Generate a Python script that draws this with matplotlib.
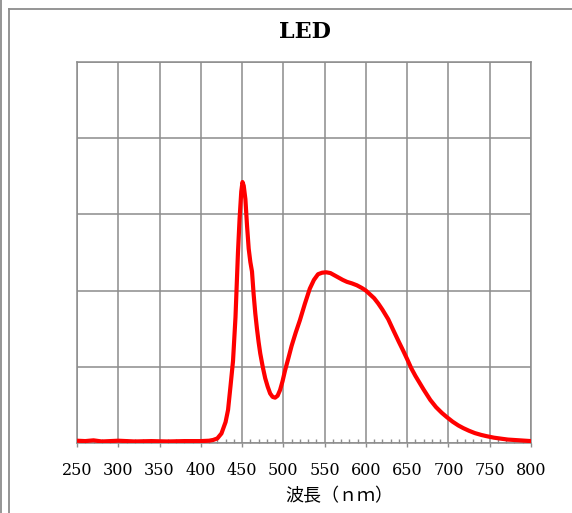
import matplotlib
matplotlib.use('Agg')
import matplotlib.pyplot as plt
from matplotlib.lines import Line2D
from matplotlib.ticker import MultipleLocator

# LED emission spectrum (relative intensity)
wavelength = [250, 260, 270, 280, 290, 300, 320, 340, 360, 380, 400, 410, 415,
              420, 425, 430, 433, 436, 439, 442, 445, 447, 449, 450.5, 452, 454,
              456, 458, 460, 462, 464, 466, 468, 470, 472, 475, 478, 481, 484,
              487, 490, 493, 496, 499, 502, 506, 510, 515, 520, 526, 532, 537,
              542, 547, 552, 557, 562, 567, 572, 577, 583, 589, 595, 600, 605,
              610, 615, 620, 627, 633, 640, 645, 650, 655, 660, 665, 670, 678,
              685, 692, 698, 705, 712, 718, 725, 732, 740, 746, 755, 765, 772,
              779, 786, 793, 800]
intensity = [.006, .005, .007, .004, .005, .006, .004, .005, .004, .005, .005,
             .006, .008, .012, .025, .055, .087, .15, .215, .33, .5, .59, .66,
             .685, .675, .64, .57, .51, .475, .45, .39, .34, .30, .265, .235,
             .2, .17, .148, .13, .121, .119, .124, .139, .162, .19, .222, .255,
             .29, .322, .365, .405, .428, .443, .447, .448, .446, .44, .434,
             .428, .423, .419, .414, .407, .4, .39, .38, .366, .35, .325, .297,
             .265, .243, .22, .196, .176, .158, .14, .113, .094, .079, .068,
             .056, .046, .039, .032, .026, .021, .018, .014, .011, .009, .008,
             .007, .006, .005]

xticks = list(range(250, 801, 50))
title = 'LED'
xlabel = '波長（ｎｍ）'

grey = '#8c8c8c'
serif = ['DejaVu Serif', 'Noto Sans CJK JP']

fig = plt.figure(figsize=(5.72, 5.13), dpi=100)
ax = fig.add_axes([77 / 572, 1 - 443 / 513, 454 / 572, 381 / 513])

ax.plot(wavelength, intensity, color='#ff0000', lw=3, solid_capstyle='butt', zorder=3)

ax.set_xlim(250, 800)
ax.set_ylim(0, 1)
ax.set_xticks(xticks)
ax.set_xticklabels([str(t) for t in xticks], family=serif, fontsize=11.5)
ax.xaxis.set_minor_locator(MultipleLocator(10))
ax.set_yticks([0, 0.2, 0.4, 0.6, 0.8, 1.0])
ax.set_yticklabels([])
ax.tick_params(axis='y', length=0)
ax.tick_params(axis='x', which='major', direction='out', length=3, color=grey,
               width=1, pad=11)
ax.tick_params(axis='x', which='minor', direction='in', length=3, color=grey,
               width=1)
ax.grid(True, color=grey, lw=1.1)
for s in ax.spines.values():
    s.set_color(grey)
    s.set_linewidth(1.1)

fig.text(305 / 572, 1 - 32 / 513, title, ha='center', va='center',
         family=serif, fontweight='bold', fontsize=16)
fig.text(339 / 572, 1 - 496 / 513, xlabel, ha='center', va='center',
         family=serif, fontsize=13)

# chart frame
fig.add_artist(Line2D([8.5 / 572, 8.5 / 572], [0, 1 - 8.5 / 513],
                      transform=fig.transFigure, color=grey, lw=1.3))
fig.add_artist(Line2D([8.5 / 572, 1], [1 - 8.5 / 513, 1 - 8.5 / 513],
                      transform=fig.transFigure, color=grey, lw=1.3))
fig.add_artist(Line2D([0.5 / 572, 0.5 / 572], [0, 1],
                      transform=fig.transFigure, color=grey, lw=1.3))

fig.savefig('out.png', dpi=100)
